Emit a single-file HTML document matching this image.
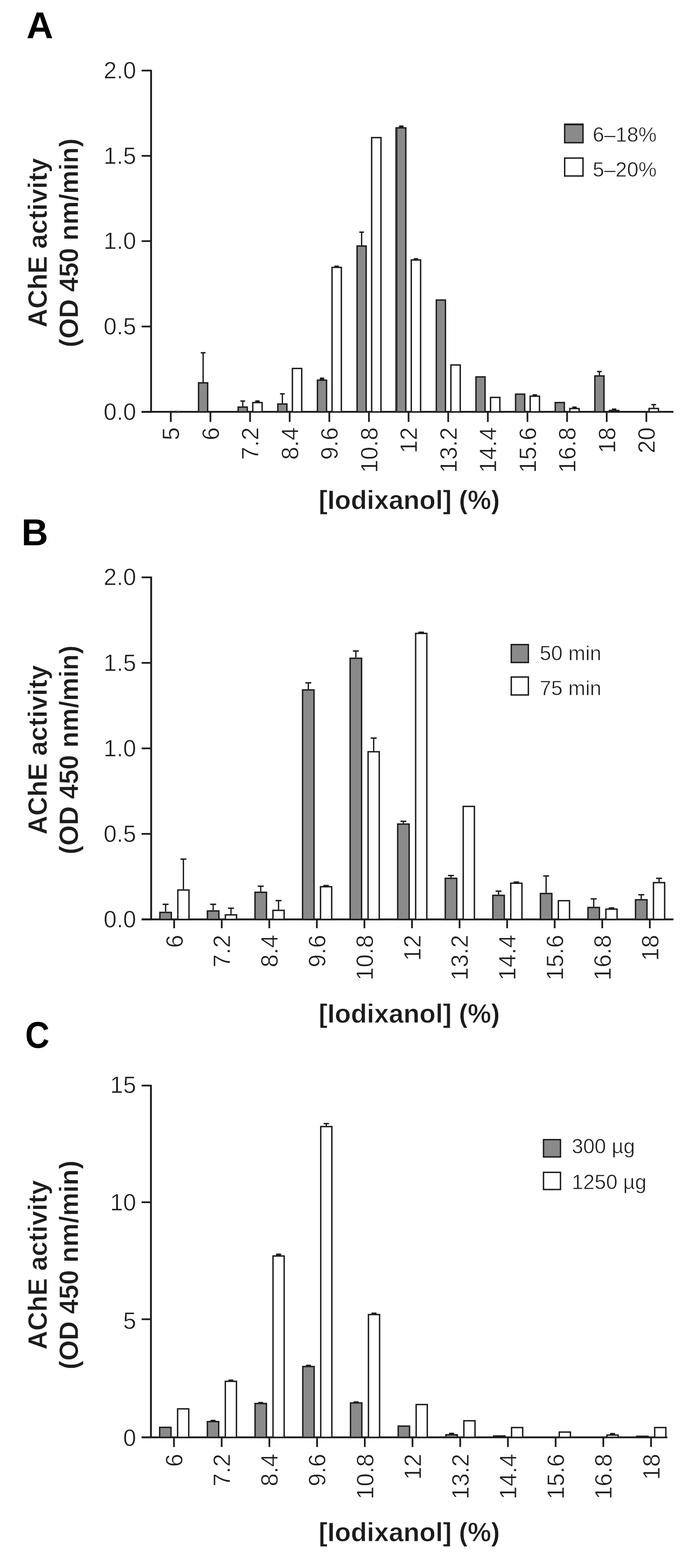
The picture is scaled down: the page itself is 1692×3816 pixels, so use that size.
<!DOCTYPE html>
<html><head><meta charset="utf-8"><title>AChE activity vs iodixanol</title>
<style>
html,body{margin:0;padding:0;background:#fff;}
body{width:1692px;height:3816px;overflow:hidden;}
svg{display:block;}
text{font-family:"Liberation Sans",Arial,Helvetica,sans-serif;fill:#1c1c1c;stroke:#fff;stroke-width:0.8px;}
text.pl{stroke:none;}
</style></head>
<body>
<svg width="1692" height="3816" viewBox="0 0 1692 3816">
<rect x="0" y="0" width="1692" height="3816" fill="#fff"/>
<line x1="367.80" y1="169.95" x2="367.80" y2="1002.30" stroke="#1c1c1c" stroke-width="4.5" stroke-linecap="butt"/>
<line x1="344.80" y1="1002.30" x2="1639.50" y2="1002.30" stroke="#1c1c1c" stroke-width="4.5" stroke-linecap="butt"/>
<line x1="344.80" y1="171.70" x2="367.80" y2="171.70" stroke="#1c1c1c" stroke-width="4.2" stroke-linecap="butt"/>
<text x="331.5" y="191.0" font-size="57" text-anchor="end">2.0</text>
<line x1="344.80" y1="379.30" x2="367.80" y2="379.30" stroke="#1c1c1c" stroke-width="4.2" stroke-linecap="butt"/>
<text x="331.5" y="398.6" font-size="57" text-anchor="end">1.5</text>
<line x1="344.80" y1="586.80" x2="367.80" y2="586.80" stroke="#1c1c1c" stroke-width="4.2" stroke-linecap="butt"/>
<text x="331.5" y="606.1" font-size="57" text-anchor="end">1.0</text>
<line x1="344.80" y1="794.60" x2="367.80" y2="794.60" stroke="#1c1c1c" stroke-width="4.2" stroke-linecap="butt"/>
<text x="331.5" y="813.9" font-size="57" text-anchor="end">0.5</text>
<line x1="344.80" y1="1002.30" x2="367.80" y2="1002.30" stroke="#1c1c1c" stroke-width="4.2" stroke-linecap="butt"/>
<text x="331.5" y="1021.6" font-size="57" text-anchor="end">0.0</text>
<line x1="415.80" y1="1002.30" x2="415.80" y2="1026.80" stroke="#1c1c1c" stroke-width="4.2" stroke-linecap="butt"/>
<text x="436.3" y="1039.8" font-size="57" text-anchor="end" transform="rotate(-90 436.3 1039.8)">5</text>
<line x1="512.28" y1="1002.30" x2="512.28" y2="1026.80" stroke="#1c1c1c" stroke-width="4.2" stroke-linecap="butt"/>
<text x="532.8" y="1039.8" font-size="57" text-anchor="end" transform="rotate(-90 532.78 1039.8)">6</text>
<line x1="608.76" y1="1002.30" x2="608.76" y2="1026.80" stroke="#1c1c1c" stroke-width="4.2" stroke-linecap="butt"/>
<text x="629.3" y="1039.8" font-size="57" text-anchor="end" transform="rotate(-90 629.26 1039.8)">7.2</text>
<line x1="705.24" y1="1002.30" x2="705.24" y2="1026.80" stroke="#1c1c1c" stroke-width="4.2" stroke-linecap="butt"/>
<text x="725.7" y="1039.8" font-size="57" text-anchor="end" transform="rotate(-90 725.74 1039.8)">8.4</text>
<line x1="801.72" y1="1002.30" x2="801.72" y2="1026.80" stroke="#1c1c1c" stroke-width="4.2" stroke-linecap="butt"/>
<text x="822.2" y="1039.8" font-size="57" text-anchor="end" transform="rotate(-90 822.22 1039.8)">9.6</text>
<line x1="898.20" y1="1002.30" x2="898.20" y2="1026.80" stroke="#1c1c1c" stroke-width="4.2" stroke-linecap="butt"/>
<text x="918.7" y="1039.8" font-size="57" text-anchor="end" transform="rotate(-90 918.7 1039.8)">10.8</text>
<line x1="994.68" y1="1002.30" x2="994.68" y2="1026.80" stroke="#1c1c1c" stroke-width="4.2" stroke-linecap="butt"/>
<text x="1015.2" y="1039.8" font-size="57" text-anchor="end" transform="rotate(-90 1015.1800000000001 1039.8)">12</text>
<line x1="1091.16" y1="1002.30" x2="1091.16" y2="1026.80" stroke="#1c1c1c" stroke-width="4.2" stroke-linecap="butt"/>
<text x="1111.7" y="1039.8" font-size="57" text-anchor="end" transform="rotate(-90 1111.66 1039.8)">13.2</text>
<line x1="1187.64" y1="1002.30" x2="1187.64" y2="1026.80" stroke="#1c1c1c" stroke-width="4.2" stroke-linecap="butt"/>
<text x="1208.1" y="1039.8" font-size="57" text-anchor="end" transform="rotate(-90 1208.14 1039.8)">14.4</text>
<line x1="1284.12" y1="1002.30" x2="1284.12" y2="1026.80" stroke="#1c1c1c" stroke-width="4.2" stroke-linecap="butt"/>
<text x="1304.6" y="1039.8" font-size="57" text-anchor="end" transform="rotate(-90 1304.6200000000001 1039.8)">15.6</text>
<line x1="1380.60" y1="1002.30" x2="1380.60" y2="1026.80" stroke="#1c1c1c" stroke-width="4.2" stroke-linecap="butt"/>
<text x="1401.1" y="1039.8" font-size="57" text-anchor="end" transform="rotate(-90 1401.1000000000001 1039.8)">16.8</text>
<line x1="1477.08" y1="1002.30" x2="1477.08" y2="1026.80" stroke="#1c1c1c" stroke-width="4.2" stroke-linecap="butt"/>
<text x="1497.6" y="1039.8" font-size="57" text-anchor="end" transform="rotate(-90 1497.58 1039.8)">18</text>
<line x1="1573.56" y1="1002.30" x2="1573.56" y2="1026.80" stroke="#1c1c1c" stroke-width="4.2" stroke-linecap="butt"/>
<text x="1594.1" y="1039.8" font-size="57" text-anchor="end" transform="rotate(-90 1594.06 1039.8)">20</text>
<rect x="483.38" y="931.70" width="22.20" height="70.60" fill="#8a8a8a" stroke="#1c1c1c" stroke-width="3.4"/>
<line x1="494.48" y1="930.00" x2="494.48" y2="858.50" stroke="#1c1c1c" stroke-width="3.2" stroke-linecap="butt"/>
<line x1="488.73" y1="858.50" x2="500.23" y2="858.50" stroke="#1c1c1c" stroke-width="3.4" stroke-linecap="butt"/>
<rect x="579.86" y="990.70" width="22.20" height="11.60" fill="#8a8a8a" stroke="#1c1c1c" stroke-width="3.4"/>
<line x1="590.96" y1="989.00" x2="590.96" y2="976.00" stroke="#1c1c1c" stroke-width="3.2" stroke-linecap="butt"/>
<line x1="585.21" y1="976.00" x2="596.71" y2="976.00" stroke="#1c1c1c" stroke-width="3.4" stroke-linecap="butt"/>
<rect x="615.36" y="979.70" width="22.70" height="22.60" fill="#ffffff" stroke="#1c1c1c" stroke-width="3.4"/>
<rect x="621.25" y="974.20" width="10.92" height="4.80" rx="1.4" fill="#1c1c1c"/>
<rect x="676.34" y="983.20" width="22.20" height="19.10" fill="#8a8a8a" stroke="#1c1c1c" stroke-width="3.4"/>
<line x1="687.44" y1="981.50" x2="687.44" y2="958.50" stroke="#1c1c1c" stroke-width="3.2" stroke-linecap="butt"/>
<line x1="681.69" y1="958.50" x2="693.19" y2="958.50" stroke="#1c1c1c" stroke-width="3.4" stroke-linecap="butt"/>
<rect x="711.84" y="896.70" width="22.70" height="105.60" fill="#ffffff" stroke="#1c1c1c" stroke-width="3.4"/>
<rect x="772.82" y="925.20" width="22.20" height="77.10" fill="#8a8a8a" stroke="#1c1c1c" stroke-width="3.4"/>
<rect x="778.46" y="918.70" width="10.92" height="5.80" rx="1.4" fill="#1c1c1c"/>
<rect x="808.32" y="650.70" width="22.70" height="351.60" fill="#ffffff" stroke="#1c1c1c" stroke-width="3.4"/>
<rect x="814.21" y="646.20" width="10.92" height="3.80" rx="1.4" fill="#1c1c1c"/>
<rect x="869.30" y="598.70" width="22.20" height="403.60" fill="#8a8a8a" stroke="#1c1c1c" stroke-width="3.4"/>
<line x1="880.40" y1="597.00" x2="880.40" y2="565.00" stroke="#1c1c1c" stroke-width="3.2" stroke-linecap="butt"/>
<line x1="874.65" y1="565.00" x2="886.15" y2="565.00" stroke="#1c1c1c" stroke-width="3.4" stroke-linecap="butt"/>
<rect x="904.80" y="334.90" width="22.70" height="667.40" fill="#ffffff" stroke="#1c1c1c" stroke-width="3.4"/>
<rect x="965.78" y="311.20" width="22.20" height="691.10" fill="#8a8a8a" stroke="#1c1c1c" stroke-width="3.4"/>
<rect x="971.42" y="305.20" width="10.92" height="5.30" rx="1.4" fill="#1c1c1c"/>
<rect x="1001.28" y="632.70" width="22.70" height="369.60" fill="#ffffff" stroke="#1c1c1c" stroke-width="3.4"/>
<rect x="1007.17" y="628.20" width="10.92" height="3.80" rx="1.4" fill="#1c1c1c"/>
<rect x="1062.26" y="730.20" width="22.20" height="272.10" fill="#8a8a8a" stroke="#1c1c1c" stroke-width="3.4"/>
<rect x="1097.76" y="888.20" width="22.70" height="114.10" fill="#ffffff" stroke="#1c1c1c" stroke-width="3.4"/>
<rect x="1158.74" y="917.20" width="22.20" height="85.10" fill="#8a8a8a" stroke="#1c1c1c" stroke-width="3.4"/>
<rect x="1194.24" y="967.20" width="22.70" height="35.10" fill="#ffffff" stroke="#1c1c1c" stroke-width="3.4"/>
<rect x="1255.22" y="959.20" width="22.20" height="43.10" fill="#8a8a8a" stroke="#1c1c1c" stroke-width="3.4"/>
<rect x="1290.72" y="964.20" width="22.70" height="38.10" fill="#ffffff" stroke="#1c1c1c" stroke-width="3.4"/>
<rect x="1296.61" y="959.20" width="10.92" height="4.30" rx="1.4" fill="#1c1c1c"/>
<rect x="1351.70" y="979.70" width="22.20" height="22.60" fill="#8a8a8a" stroke="#1c1c1c" stroke-width="3.4"/>
<rect x="1387.20" y="994.20" width="22.70" height="8.10" fill="#ffffff" stroke="#1c1c1c" stroke-width="3.4"/>
<rect x="1393.09" y="989.20" width="10.92" height="4.30" rx="1.4" fill="#1c1c1c"/>
<rect x="1448.18" y="914.90" width="22.20" height="87.40" fill="#8a8a8a" stroke="#1c1c1c" stroke-width="3.4"/>
<line x1="1459.28" y1="913.20" x2="1459.28" y2="904.20" stroke="#1c1c1c" stroke-width="3.2" stroke-linecap="butt"/>
<line x1="1453.53" y1="904.20" x2="1465.03" y2="904.20" stroke="#1c1c1c" stroke-width="3.4" stroke-linecap="butt"/>
<rect x="1483.68" y="999.10" width="22.70" height="3.20" fill="#ffffff" stroke="#1c1c1c" stroke-width="3.4"/>
<rect x="1489.57" y="994.00" width="10.92" height="4.40" rx="1.4" fill="#1c1c1c"/>
<rect x="1580.16" y="994.10" width="22.70" height="8.20" fill="#ffffff" stroke="#1c1c1c" stroke-width="3.4"/>
<line x1="1591.51" y1="992.40" x2="1591.51" y2="984.70" stroke="#1c1c1c" stroke-width="3.2" stroke-linecap="butt"/>
<line x1="1585.76" y1="984.70" x2="1597.26" y2="984.70" stroke="#1c1c1c" stroke-width="3.4" stroke-linecap="butt"/>
<rect x="1374.70" y="302.70" width="44.60" height="44.60" fill="#8a8a8a" stroke="#1c1c1c" stroke-width="3.4"/>
<rect x="1374.70" y="384.70" width="44.60" height="43.60" fill="#ffffff" stroke="#1c1c1c" stroke-width="3.4"/>
<text x="1443.0" y="345.0" font-size="50" text-anchor="start">6–18%</text>
<text x="1443.0" y="430.0" font-size="50" text-anchor="start">5–20%</text>
<text x="64.4" y="93.2" font-size="90" font-weight="bold" text-anchor="start" class="pl" style="fill:#000">A</text>
<text x="113.8" y="591.0" font-size="64" font-weight="bold" text-anchor="middle" transform="rotate(-90 113.8 591)">AChE activity</text>
<text x="189.5" y="591.0" font-size="64" font-weight="bold" text-anchor="middle" transform="rotate(-90 189.5 591)">(OD 450 nm/min)</text>
<text x="776.0" y="1238.6" font-size="64" font-weight="bold" text-anchor="start">[Iodixanol] (%)</text>
<rect x="962.3" y="309.5" width="4.6" height="692.8" fill="#2e2e2e"/>
<ellipse cx="434" cy="999" rx="7" ry="1.6" fill="#d6d6d6"/>
<rect x="1373" y="300.5" width="48" height="4.5" fill="#1c1c1c"/>
<line x1="368.00" y1="1403.35" x2="368.00" y2="2237.50" stroke="#1c1c1c" stroke-width="4.5" stroke-linecap="butt"/>
<line x1="344.80" y1="2237.50" x2="1639.50" y2="2237.50" stroke="#1c1c1c" stroke-width="4.5" stroke-linecap="butt"/>
<line x1="344.80" y1="1405.10" x2="368.00" y2="1405.10" stroke="#1c1c1c" stroke-width="4.2" stroke-linecap="butt"/>
<text x="331.5" y="1424.4" font-size="57" text-anchor="end">2.0</text>
<line x1="344.80" y1="1613.20" x2="368.00" y2="1613.20" stroke="#1c1c1c" stroke-width="4.2" stroke-linecap="butt"/>
<text x="331.5" y="1632.5" font-size="57" text-anchor="end">1.5</text>
<line x1="344.80" y1="1821.30" x2="368.00" y2="1821.30" stroke="#1c1c1c" stroke-width="4.2" stroke-linecap="butt"/>
<text x="331.5" y="1840.6" font-size="57" text-anchor="end">1.0</text>
<line x1="344.80" y1="2029.40" x2="368.00" y2="2029.40" stroke="#1c1c1c" stroke-width="4.2" stroke-linecap="butt"/>
<text x="331.5" y="2048.7" font-size="57" text-anchor="end">0.5</text>
<line x1="344.80" y1="2237.50" x2="368.00" y2="2237.50" stroke="#1c1c1c" stroke-width="4.2" stroke-linecap="butt"/>
<text x="331.5" y="2256.8" font-size="57" text-anchor="end">0.0</text>
<line x1="424.00" y1="2237.50" x2="424.00" y2="2259.00" stroke="#1c1c1c" stroke-width="4.2" stroke-linecap="butt"/>
<text x="444.5" y="2275.0" font-size="57" text-anchor="end" transform="rotate(-90 444.5 2275.0)">6</text>
<line x1="539.80" y1="2237.50" x2="539.80" y2="2259.00" stroke="#1c1c1c" stroke-width="4.2" stroke-linecap="butt"/>
<text x="560.3" y="2275.0" font-size="57" text-anchor="end" transform="rotate(-90 560.3 2275.0)">7.2</text>
<line x1="655.60" y1="2237.50" x2="655.60" y2="2259.00" stroke="#1c1c1c" stroke-width="4.2" stroke-linecap="butt"/>
<text x="676.1" y="2275.0" font-size="57" text-anchor="end" transform="rotate(-90 676.1 2275.0)">8.4</text>
<line x1="771.40" y1="2237.50" x2="771.40" y2="2259.00" stroke="#1c1c1c" stroke-width="4.2" stroke-linecap="butt"/>
<text x="791.9" y="2275.0" font-size="57" text-anchor="end" transform="rotate(-90 791.9 2275.0)">9.6</text>
<line x1="887.20" y1="2237.50" x2="887.20" y2="2259.00" stroke="#1c1c1c" stroke-width="4.2" stroke-linecap="butt"/>
<text x="907.7" y="2275.0" font-size="57" text-anchor="end" transform="rotate(-90 907.7 2275.0)">10.8</text>
<line x1="1003.00" y1="2237.50" x2="1003.00" y2="2259.00" stroke="#1c1c1c" stroke-width="4.2" stroke-linecap="butt"/>
<text x="1023.5" y="2275.0" font-size="57" text-anchor="end" transform="rotate(-90 1023.5 2275.0)">12</text>
<line x1="1118.80" y1="2237.50" x2="1118.80" y2="2259.00" stroke="#1c1c1c" stroke-width="4.2" stroke-linecap="butt"/>
<text x="1139.3" y="2275.0" font-size="57" text-anchor="end" transform="rotate(-90 1139.3 2275.0)">13.2</text>
<line x1="1234.60" y1="2237.50" x2="1234.60" y2="2259.00" stroke="#1c1c1c" stroke-width="4.2" stroke-linecap="butt"/>
<text x="1255.1" y="2275.0" font-size="57" text-anchor="end" transform="rotate(-90 1255.1 2275.0)">14.4</text>
<line x1="1350.40" y1="2237.50" x2="1350.40" y2="2259.00" stroke="#1c1c1c" stroke-width="4.2" stroke-linecap="butt"/>
<text x="1370.9" y="2275.0" font-size="57" text-anchor="end" transform="rotate(-90 1370.9 2275.0)">15.6</text>
<line x1="1466.20" y1="2237.50" x2="1466.20" y2="2259.00" stroke="#1c1c1c" stroke-width="4.2" stroke-linecap="butt"/>
<text x="1486.7" y="2275.0" font-size="57" text-anchor="end" transform="rotate(-90 1486.7 2275.0)">16.8</text>
<line x1="1582.00" y1="2237.50" x2="1582.00" y2="2259.00" stroke="#1c1c1c" stroke-width="4.2" stroke-linecap="butt"/>
<text x="1602.5" y="2275.0" font-size="57" text-anchor="end" transform="rotate(-90 1602.5 2275.0)">18</text>
<rect x="389.20" y="2220.50" width="27.90" height="17.00" fill="#8a8a8a" stroke="#1c1c1c" stroke-width="3.4"/>
<line x1="403.15" y1="2218.80" x2="403.15" y2="2200.80" stroke="#1c1c1c" stroke-width="3.2" stroke-linecap="butt"/>
<line x1="395.90" y1="2200.80" x2="410.40" y2="2200.80" stroke="#1c1c1c" stroke-width="3.4" stroke-linecap="butt"/>
<rect x="432.90" y="2166.00" width="27.20" height="71.50" fill="#ffffff" stroke="#1c1c1c" stroke-width="3.4"/>
<line x1="446.50" y1="2164.30" x2="446.50" y2="2090.80" stroke="#1c1c1c" stroke-width="3.2" stroke-linecap="butt"/>
<line x1="439.25" y1="2090.80" x2="453.75" y2="2090.80" stroke="#1c1c1c" stroke-width="3.4" stroke-linecap="butt"/>
<rect x="505.00" y="2217.00" width="27.90" height="20.50" fill="#8a8a8a" stroke="#1c1c1c" stroke-width="3.4"/>
<line x1="518.95" y1="2215.30" x2="518.95" y2="2200.80" stroke="#1c1c1c" stroke-width="3.2" stroke-linecap="butt"/>
<line x1="511.70" y1="2200.80" x2="526.20" y2="2200.80" stroke="#1c1c1c" stroke-width="3.4" stroke-linecap="butt"/>
<rect x="548.70" y="2226.50" width="27.20" height="11.00" fill="#ffffff" stroke="#1c1c1c" stroke-width="3.4"/>
<line x1="562.30" y1="2224.80" x2="562.30" y2="2210.30" stroke="#1c1c1c" stroke-width="3.2" stroke-linecap="butt"/>
<line x1="555.05" y1="2210.30" x2="569.55" y2="2210.30" stroke="#1c1c1c" stroke-width="3.4" stroke-linecap="butt"/>
<rect x="620.80" y="2171.50" width="27.90" height="66.00" fill="#8a8a8a" stroke="#1c1c1c" stroke-width="3.4"/>
<line x1="634.75" y1="2169.80" x2="634.75" y2="2156.80" stroke="#1c1c1c" stroke-width="3.2" stroke-linecap="butt"/>
<line x1="627.50" y1="2156.80" x2="642.00" y2="2156.80" stroke="#1c1c1c" stroke-width="3.4" stroke-linecap="butt"/>
<rect x="664.50" y="2215.50" width="27.20" height="22.00" fill="#ffffff" stroke="#1c1c1c" stroke-width="3.4"/>
<line x1="678.10" y1="2213.80" x2="678.10" y2="2191.80" stroke="#1c1c1c" stroke-width="3.2" stroke-linecap="butt"/>
<line x1="670.85" y1="2191.80" x2="685.35" y2="2191.80" stroke="#1c1c1c" stroke-width="3.4" stroke-linecap="butt"/>
<rect x="736.60" y="1679.00" width="27.90" height="558.50" fill="#8a8a8a" stroke="#1c1c1c" stroke-width="3.4"/>
<line x1="750.55" y1="1677.30" x2="750.55" y2="1661.80" stroke="#1c1c1c" stroke-width="3.2" stroke-linecap="butt"/>
<line x1="743.30" y1="1661.80" x2="757.80" y2="1661.80" stroke="#1c1c1c" stroke-width="3.4" stroke-linecap="butt"/>
<rect x="780.30" y="2158.00" width="27.20" height="79.50" fill="#ffffff" stroke="#1c1c1c" stroke-width="3.4"/>
<rect x="787.01" y="2153.50" width="13.77" height="3.80" rx="1.4" fill="#1c1c1c"/>
<rect x="852.40" y="1602.00" width="27.90" height="635.50" fill="#8a8a8a" stroke="#1c1c1c" stroke-width="3.4"/>
<line x1="866.35" y1="1600.30" x2="866.35" y2="1584.30" stroke="#1c1c1c" stroke-width="3.2" stroke-linecap="butt"/>
<line x1="859.10" y1="1584.30" x2="873.60" y2="1584.30" stroke="#1c1c1c" stroke-width="3.4" stroke-linecap="butt"/>
<rect x="896.10" y="1829.50" width="27.20" height="408.00" fill="#ffffff" stroke="#1c1c1c" stroke-width="3.4"/>
<line x1="909.70" y1="1827.80" x2="909.70" y2="1796.30" stroke="#1c1c1c" stroke-width="3.2" stroke-linecap="butt"/>
<line x1="902.45" y1="1796.30" x2="916.95" y2="1796.30" stroke="#1c1c1c" stroke-width="3.4" stroke-linecap="butt"/>
<rect x="968.20" y="2005.50" width="27.90" height="232.00" fill="#8a8a8a" stroke="#1c1c1c" stroke-width="3.4"/>
<line x1="982.15" y1="2003.80" x2="982.15" y2="1998.80" stroke="#1c1c1c" stroke-width="3.2" stroke-linecap="butt"/>
<line x1="974.90" y1="1998.80" x2="989.40" y2="1998.80" stroke="#1c1c1c" stroke-width="3.4" stroke-linecap="butt"/>
<rect x="1011.90" y="1541.50" width="27.20" height="696.00" fill="#ffffff" stroke="#1c1c1c" stroke-width="3.4"/>
<rect x="1018.61" y="1537.00" width="13.77" height="3.80" rx="1.4" fill="#1c1c1c"/>
<rect x="1084.00" y="2137.50" width="27.90" height="100.00" fill="#8a8a8a" stroke="#1c1c1c" stroke-width="3.4"/>
<line x1="1097.95" y1="2135.80" x2="1097.95" y2="2130.80" stroke="#1c1c1c" stroke-width="3.2" stroke-linecap="butt"/>
<line x1="1090.70" y1="2130.80" x2="1105.20" y2="2130.80" stroke="#1c1c1c" stroke-width="3.4" stroke-linecap="butt"/>
<rect x="1127.70" y="1962.50" width="27.20" height="275.00" fill="#ffffff" stroke="#1c1c1c" stroke-width="3.4"/>
<rect x="1199.80" y="2179.00" width="27.90" height="58.50" fill="#8a8a8a" stroke="#1c1c1c" stroke-width="3.4"/>
<line x1="1213.75" y1="2177.30" x2="1213.75" y2="2168.80" stroke="#1c1c1c" stroke-width="3.2" stroke-linecap="butt"/>
<line x1="1206.50" y1="2168.80" x2="1221.00" y2="2168.80" stroke="#1c1c1c" stroke-width="3.4" stroke-linecap="butt"/>
<rect x="1243.50" y="2149.50" width="27.20" height="88.00" fill="#ffffff" stroke="#1c1c1c" stroke-width="3.4"/>
<rect x="1250.21" y="2145.00" width="13.77" height="3.80" rx="1.4" fill="#1c1c1c"/>
<rect x="1315.60" y="2174.50" width="27.90" height="63.00" fill="#8a8a8a" stroke="#1c1c1c" stroke-width="3.4"/>
<line x1="1329.55" y1="2172.80" x2="1329.55" y2="2131.80" stroke="#1c1c1c" stroke-width="3.2" stroke-linecap="butt"/>
<line x1="1322.30" y1="2131.80" x2="1336.80" y2="2131.80" stroke="#1c1c1c" stroke-width="3.4" stroke-linecap="butt"/>
<rect x="1359.30" y="2192.00" width="27.20" height="45.50" fill="#ffffff" stroke="#1c1c1c" stroke-width="3.4"/>
<rect x="1431.40" y="2208.50" width="27.90" height="29.00" fill="#8a8a8a" stroke="#1c1c1c" stroke-width="3.4"/>
<line x1="1445.35" y1="2206.80" x2="1445.35" y2="2187.55" stroke="#1c1c1c" stroke-width="3.2" stroke-linecap="butt"/>
<line x1="1438.10" y1="2187.55" x2="1452.60" y2="2187.55" stroke="#1c1c1c" stroke-width="3.4" stroke-linecap="butt"/>
<rect x="1475.10" y="2212.50" width="27.20" height="25.00" fill="#ffffff" stroke="#1c1c1c" stroke-width="3.4"/>
<rect x="1481.81" y="2208.00" width="13.77" height="3.80" rx="1.4" fill="#1c1c1c"/>
<rect x="1547.20" y="2189.75" width="27.90" height="47.75" fill="#8a8a8a" stroke="#1c1c1c" stroke-width="3.4"/>
<line x1="1561.15" y1="2188.05" x2="1561.15" y2="2177.55" stroke="#1c1c1c" stroke-width="3.2" stroke-linecap="butt"/>
<line x1="1553.90" y1="2177.55" x2="1568.40" y2="2177.55" stroke="#1c1c1c" stroke-width="3.4" stroke-linecap="butt"/>
<rect x="1590.90" y="2148.00" width="27.20" height="89.50" fill="#ffffff" stroke="#1c1c1c" stroke-width="3.4"/>
<line x1="1604.50" y1="2146.30" x2="1604.50" y2="2137.55" stroke="#1c1c1c" stroke-width="3.2" stroke-linecap="butt"/>
<line x1="1597.25" y1="2137.55" x2="1611.75" y2="2137.55" stroke="#1c1c1c" stroke-width="3.4" stroke-linecap="butt"/>
<rect x="1244.70" y="1568.70" width="41.60" height="43.60" fill="#8a8a8a" stroke="#1c1c1c" stroke-width="3.4"/>
<rect x="1244.70" y="1647.70" width="41.60" height="43.60" fill="#ffffff" stroke="#1c1c1c" stroke-width="3.4"/>
<text x="1314.0" y="1607.0" font-size="50" text-anchor="start">50 min</text>
<text x="1314.0" y="1692.0" font-size="50" text-anchor="start">75 min</text>
<text x="52.2" y="1327.2" font-size="90" font-weight="bold" text-anchor="start" class="pl" style="fill:#000">B</text>
<text x="113.8" y="1825.0" font-size="64" font-weight="bold" text-anchor="middle" transform="rotate(-90 113.8 1825)">AChE activity</text>
<text x="189.5" y="1825.0" font-size="64" font-weight="bold" text-anchor="middle" transform="rotate(-90 189.5 1825)">(OD 450 nm/min)</text>
<text x="776.0" y="2489.1" font-size="64" font-weight="bold" text-anchor="start">[Iodixanol] (%)</text>
<line x1="367.50" y1="2640.15" x2="367.50" y2="3498.00" stroke="#1c1c1c" stroke-width="4.5" stroke-linecap="butt"/>
<line x1="344.80" y1="3498.00" x2="1624.60" y2="3498.00" stroke="#1c1c1c" stroke-width="4.5" stroke-linecap="butt"/>
<line x1="344.80" y1="2641.90" x2="367.50" y2="2641.90" stroke="#1c1c1c" stroke-width="4.2" stroke-linecap="butt"/>
<text x="331.5" y="2659.9" font-size="57" text-anchor="end">15</text>
<line x1="344.80" y1="2925.90" x2="367.50" y2="2925.90" stroke="#1c1c1c" stroke-width="4.2" stroke-linecap="butt"/>
<text x="331.5" y="2945.6" font-size="57" text-anchor="end">10</text>
<line x1="344.80" y1="3210.60" x2="367.50" y2="3210.60" stroke="#1c1c1c" stroke-width="4.2" stroke-linecap="butt"/>
<text x="331.5" y="3233.9" font-size="57" text-anchor="end">5</text>
<line x1="344.80" y1="3498.00" x2="367.50" y2="3498.00" stroke="#1c1c1c" stroke-width="4.2" stroke-linecap="butt"/>
<text x="331.5" y="3519.1" font-size="57" text-anchor="end">0</text>
<line x1="423.50" y1="3498.00" x2="423.50" y2="3521.50" stroke="#1c1c1c" stroke-width="4.2" stroke-linecap="butt"/>
<text x="444.0" y="3538.0" font-size="57" text-anchor="end" transform="rotate(-90 444.0 3538)">6</text>
<line x1="539.65" y1="3498.00" x2="539.65" y2="3521.50" stroke="#1c1c1c" stroke-width="4.2" stroke-linecap="butt"/>
<text x="560.1" y="3538.0" font-size="57" text-anchor="end" transform="rotate(-90 560.15 3538)">7.2</text>
<line x1="655.80" y1="3498.00" x2="655.80" y2="3521.50" stroke="#1c1c1c" stroke-width="4.2" stroke-linecap="butt"/>
<text x="676.3" y="3538.0" font-size="57" text-anchor="end" transform="rotate(-90 676.3 3538)">8.4</text>
<line x1="771.95" y1="3498.00" x2="771.95" y2="3521.50" stroke="#1c1c1c" stroke-width="4.2" stroke-linecap="butt"/>
<text x="792.5" y="3538.0" font-size="57" text-anchor="end" transform="rotate(-90 792.45 3538)">9.6</text>
<line x1="888.10" y1="3498.00" x2="888.10" y2="3521.50" stroke="#1c1c1c" stroke-width="4.2" stroke-linecap="butt"/>
<text x="908.6" y="3538.0" font-size="57" text-anchor="end" transform="rotate(-90 908.6 3538)">10.8</text>
<line x1="1004.25" y1="3498.00" x2="1004.25" y2="3521.50" stroke="#1c1c1c" stroke-width="4.2" stroke-linecap="butt"/>
<text x="1024.8" y="3538.0" font-size="57" text-anchor="end" transform="rotate(-90 1024.75 3538)">12</text>
<line x1="1120.40" y1="3498.00" x2="1120.40" y2="3521.50" stroke="#1c1c1c" stroke-width="4.2" stroke-linecap="butt"/>
<text x="1140.9" y="3538.0" font-size="57" text-anchor="end" transform="rotate(-90 1140.9 3538)">13.2</text>
<line x1="1236.55" y1="3498.00" x2="1236.55" y2="3521.50" stroke="#1c1c1c" stroke-width="4.2" stroke-linecap="butt"/>
<text x="1257.1" y="3538.0" font-size="57" text-anchor="end" transform="rotate(-90 1257.0500000000002 3538)">14.4</text>
<line x1="1352.70" y1="3498.00" x2="1352.70" y2="3521.50" stroke="#1c1c1c" stroke-width="4.2" stroke-linecap="butt"/>
<text x="1373.2" y="3538.0" font-size="57" text-anchor="end" transform="rotate(-90 1373.2 3538)">15.6</text>
<line x1="1468.85" y1="3498.00" x2="1468.85" y2="3521.50" stroke="#1c1c1c" stroke-width="4.2" stroke-linecap="butt"/>
<text x="1489.4" y="3538.0" font-size="57" text-anchor="end" transform="rotate(-90 1489.3500000000001 3538)">16.8</text>
<line x1="1585.00" y1="3498.00" x2="1585.00" y2="3521.50" stroke="#1c1c1c" stroke-width="4.2" stroke-linecap="butt"/>
<text x="1605.5" y="3538.0" font-size="57" text-anchor="end" transform="rotate(-90 1605.5 3538)">18</text>
<rect x="388.70" y="3473.70" width="27.60" height="24.30" fill="#8a8a8a" stroke="#1c1c1c" stroke-width="3.4"/>
<rect x="432.40" y="3428.70" width="27.10" height="69.30" fill="#ffffff" stroke="#1c1c1c" stroke-width="3.4"/>
<rect x="504.85" y="3459.70" width="27.60" height="38.30" fill="#8a8a8a" stroke="#1c1c1c" stroke-width="3.4"/>
<rect x="512.48" y="3455.20" width="12.35" height="3.80" rx="1.4" fill="#1c1c1c"/>
<rect x="548.55" y="3361.70" width="27.10" height="136.30" fill="#ffffff" stroke="#1c1c1c" stroke-width="3.4"/>
<rect x="555.93" y="3357.20" width="12.35" height="3.80" rx="1.4" fill="#1c1c1c"/>
<rect x="621.00" y="3415.70" width="27.60" height="82.30" fill="#8a8a8a" stroke="#1c1c1c" stroke-width="3.4"/>
<rect x="628.62" y="3411.70" width="12.35" height="3.30" rx="1.4" fill="#1c1c1c"/>
<rect x="664.70" y="3056.70" width="27.10" height="441.30" fill="#ffffff" stroke="#1c1c1c" stroke-width="3.4"/>
<rect x="672.08" y="3050.70" width="12.35" height="5.30" rx="1.4" fill="#1c1c1c"/>
<rect x="737.15" y="3325.70" width="27.60" height="172.30" fill="#8a8a8a" stroke="#1c1c1c" stroke-width="3.4"/>
<rect x="744.78" y="3321.20" width="12.35" height="3.80" rx="1.4" fill="#1c1c1c"/>
<rect x="780.85" y="2741.70" width="27.10" height="756.30" fill="#ffffff" stroke="#1c1c1c" stroke-width="3.4"/>
<line x1="794.40" y1="2740.00" x2="794.40" y2="2734.50" stroke="#1c1c1c" stroke-width="3.2" stroke-linecap="butt"/>
<line x1="787.90" y1="2734.50" x2="800.90" y2="2734.50" stroke="#1c1c1c" stroke-width="3.4" stroke-linecap="butt"/>
<rect x="853.30" y="3414.20" width="27.60" height="83.80" fill="#8a8a8a" stroke="#1c1c1c" stroke-width="3.4"/>
<rect x="860.93" y="3410.20" width="12.35" height="3.30" rx="1.4" fill="#1c1c1c"/>
<rect x="897.00" y="3199.20" width="27.10" height="298.80" fill="#ffffff" stroke="#1c1c1c" stroke-width="3.4"/>
<rect x="904.38" y="3194.20" width="12.35" height="4.30" rx="1.4" fill="#1c1c1c"/>
<rect x="969.45" y="3470.70" width="27.60" height="27.30" fill="#8a8a8a" stroke="#1c1c1c" stroke-width="3.4"/>
<rect x="1013.15" y="3418.20" width="27.10" height="79.80" fill="#ffffff" stroke="#1c1c1c" stroke-width="3.4"/>
<rect x="1085.60" y="3491.70" width="27.60" height="6.30" fill="#8a8a8a" stroke="#1c1c1c" stroke-width="3.4"/>
<rect x="1093.23" y="3486.70" width="12.35" height="4.30" rx="1.4" fill="#1c1c1c"/>
<rect x="1129.30" y="3457.70" width="27.10" height="40.30" fill="#ffffff" stroke="#1c1c1c" stroke-width="3.4"/>
<rect x="1201.75" y="3494.70" width="27.60" height="3.30" fill="#8a8a8a" stroke="#1c1c1c" stroke-width="3.4"/>
<rect x="1245.45" y="3474.20" width="27.10" height="23.80" fill="#ffffff" stroke="#1c1c1c" stroke-width="3.4"/>
<rect x="1361.60" y="3485.20" width="27.10" height="12.80" fill="#ffffff" stroke="#1c1c1c" stroke-width="3.4"/>
<rect x="1477.75" y="3492.45" width="27.10" height="5.55" fill="#ffffff" stroke="#1c1c1c" stroke-width="3.4"/>
<rect x="1485.13" y="3487.20" width="12.35" height="4.55" rx="1.4" fill="#1c1c1c"/>
<rect x="1550.20" y="3495.45" width="27.60" height="2.55" fill="#8a8a8a" stroke="#1c1c1c" stroke-width="3.4"/>
<rect x="1593.90" y="3474.20" width="27.10" height="23.80" fill="#ffffff" stroke="#1c1c1c" stroke-width="3.4"/>
<rect x="1323.20" y="2773.50" width="41.30" height="42.10" fill="#8a8a8a" stroke="#1c1c1c" stroke-width="3.4"/>
<rect x="1323.20" y="2853.10" width="41.30" height="41.80" fill="#ffffff" stroke="#1c1c1c" stroke-width="3.4"/>
<text x="1392.0" y="2807.3" font-size="50" text-anchor="start">300 µg</text>
<text x="1392.0" y="2894.0" font-size="50" text-anchor="start">1250 µg</text>
<text class="pl" x="0" y="0" font-size="90" font-weight="bold" style="fill:#000" transform="translate(61.2 2550) scale(0.91 1)">C</text>
<text x="113.8" y="3078.5" font-size="64" font-weight="bold" text-anchor="middle" transform="rotate(-90 113.8 3078.5)">AChE activity</text>
<text x="189.5" y="3078.5" font-size="64" font-weight="bold" text-anchor="middle" transform="rotate(-90 189.5 3078.5)">(OD 450 nm/min)</text>
<text x="776.0" y="3750.6" font-size="64" font-weight="bold" text-anchor="start">[Iodixanol] (%)</text>
</svg>
</body></html>
